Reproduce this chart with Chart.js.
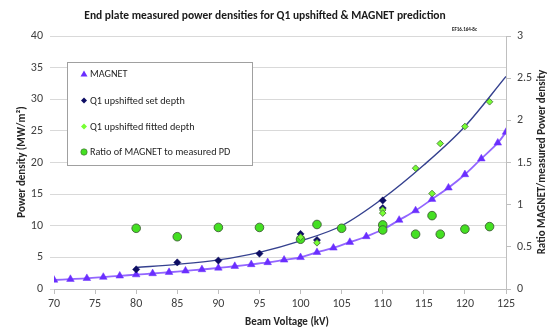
<!DOCTYPE html>
<html>
<head>
<meta charset="utf-8">
<script src="https://cdn.jsdelivr.net/npm/chart.js@4/dist/chart.umd.min.js"></script>
<style>
html,body{margin:0;padding:0;background:#fff;}
#wrap{width:554px;height:329px;position:relative;}
</style>
</head>
<body>
<div id="wrap"><canvas id="c" width="554" height="329"></canvas></div>
<script>
// ---- data ----
const magnetKV = [70,72,74,76,78,80,82,84,86,88,90,92,94,96,98,100,102,104,106,108,110,112,114,116,118,120,122,124,125];
const magnetPD = [1.42,1.55,1.69,1.88,2.08,2.27,2.45,2.65,2.87,3.08,3.33,3.6,3.88,4.2,4.6,5.0,5.8,6.5,7.4,8.3,9.4,10.9,12.4,14.2,16.0,18.1,20.6,23.1,24.8];

const setKV = [80,85,90,95,100,102,110,110];
const setPD = [3.1,4.2,4.5,5.6,8.7,7.75,14.0,12.8];

const fitKV = [100,102,110,110,114,116,117,120,123];
const fitPD = [8.2,7.3,12.5,12.0,19.1,15.1,23.0,25.7,29.6];

const ratioKV = [80,85,90,95,100,102,105,110,110,114,116,117,120,123];
const ratioVal = [0.72,0.62,0.73,0.73,0.59,0.765,0.72,0.76,0.70,0.65,0.87,0.65,0.71,0.74];

const trendKV = [80,85,90,95,100,105,110,115,120,125];
const trendPD = [3.4,3.9,4.6,5.8,7.6,10.0,14.3,19.6,25.7,33.6];

const leftTicks = [0,5,10,15,20,25,30,35,40];
const rightTicks = [0,0.5,1,1.5,2,2.5,3];
const xTicks = [70,75,80,85,90,95,100,105,110,115,120,125];

const titleText = "End plate measured power densities for Q1 upshifted & MAGNET prediction";
const leftTitle = "Power density (MW/m\u00B2)";
const rightTitle = "Ratio MAGNET/measured Power density";
const xTitle = "Beam Voltage (kV)";
const tagText = "EF16.164-8c";
const legendLabels = ["MAGNET","Q1 upshifted set depth","Q1 upshifted fitted depth","Ratio of MAGNET to measured PD"];

const FONT = "Carlito, Lato, 'Liberation Sans', sans-serif";
const pts = (xs, ys) => xs.map((x,i)=>({x:x, y:ys[i]}));

const C_MAG = '#6a2eff', C_MAGLINE = '#9366ff', C_SET = '#0d0d63', C_TREND = '#35418f',
      C_FIT = '#77ff33', C_FITB = '#4d7a3d', C_RAT = '#44e022', C_RATB = '#3f5f36';

const overlay = {
  id:'overlay',
  afterDraw(chart){
    const ctx = chart.ctx;
    ctx.save();
    // title
    ctx.fillStyle = '#1a1a1a';
    ctx.font = "bold 11.5px " + FONT;
    ctx.textAlign = 'center'; ctx.textBaseline = 'middle';
    ctx.fillText(titleText, 265, 16);
    // tag
    ctx.font = "bold 5px " + FONT;
    ctx.textAlign = 'right';
    ctx.fillText(tagText, 477, 30);
    // axis titles
    ctx.fillStyle = '#262626';
    ctx.font = "bold 11px " + FONT;
    ctx.textAlign = 'center';
    ctx.fillText(xTitle, 287, 322);
    ctx.save(); ctx.translate(22, 162); ctx.rotate(-Math.PI/2); ctx.fillText(leftTitle, 0, 0); ctx.restore();
    ctx.save(); ctx.translate(542, 162); ctx.rotate(-Math.PI/2); ctx.fillText(rightTitle, 0, 0); ctx.restore();
    // legend box
    ctx.fillStyle = '#ffffff';
    ctx.fillRect(67.5, 62.5, 185, 103);
    ctx.strokeStyle = '#a0a0a0'; ctx.lineWidth = 1;
    ctx.strokeRect(67.5, 62.5, 185, 103);
    const ys = [74, 100.5, 126.5, 152];
    const mx = 84;
    // triangle
    ctx.fillStyle = C_MAG;
    ctx.beginPath(); ctx.moveTo(mx, ys[0]-3.5); ctx.lineTo(mx+3.5, ys[0]+2.5); ctx.lineTo(mx-3.5, ys[0]+2.5); ctx.closePath(); ctx.fill();
    // diamond navy
    ctx.fillStyle = C_SET;
    ctx.beginPath(); ctx.moveTo(mx, ys[1]-3); ctx.lineTo(mx+3, ys[1]); ctx.lineTo(mx, ys[1]+3); ctx.lineTo(mx-3, ys[1]); ctx.closePath(); ctx.fill();
    // diamond green
    ctx.fillStyle = C_FIT;
    ctx.beginPath(); ctx.moveTo(mx, ys[2]-3); ctx.lineTo(mx+3, ys[2]); ctx.lineTo(mx, ys[2]+3); ctx.lineTo(mx-3, ys[2]); ctx.closePath(); ctx.fill();
    // circle
    ctx.fillStyle = C_RAT; ctx.strokeStyle = C_RATB;
    ctx.beginPath(); ctx.arc(mx, ys[3], 3.2, 0, Math.PI*2); ctx.fill(); ctx.lineWidth=0.6; ctx.stroke();
    ctx.fillStyle = '#262626';
    ctx.font = "10.2px " + FONT;
    ctx.textAlign = 'left';
    legendLabels.forEach((t,i)=>ctx.fillText(t, 90, ys[i]+0.5));
    ctx.restore();
  }
};

new Chart(document.getElementById('c'), {
  type: 'scatter',
  data: {
    datasets: [
      { label: legendLabels[0], type:'line', data: pts(magnetKV, magnetPD), yAxisID:'y',
        borderColor: C_MAGLINE, borderWidth: 1.8, backgroundColor: C_MAG, pointBackgroundColor: C_MAG,
        pointBorderColor: C_MAG, pointStyle:'triangle', pointRadius: 4.4, pointBorderWidth: 0.5,
        tension: 0.35, fill:false, order: 5 },
      { label: 'trend', type:'line', data: pts(trendKV, trendPD), yAxisID:'y',
        borderColor: C_TREND, borderWidth: 1.4, pointRadius: 0, cubicInterpolationMode:'monotone',
        fill:false, order: 4 },
      { label: legendLabels[3], data: pts(ratioKV, ratioVal), yAxisID:'y2',
        pointStyle:'circle', pointRadius: 4.3, pointBackgroundColor: C_RAT, pointBorderColor: C_RATB,
        pointBorderWidth: 0.9, showLine:false, order: 3 },
      { label: legendLabels[1], data: pts(setKV, setPD), yAxisID:'y',
        pointStyle:'rectRot', pointRadius: 3.6, pointBackgroundColor: C_SET, pointBorderColor: C_SET,
        pointBorderWidth: 0.5, showLine:false, order: 2 },
      { label: legendLabels[2], data: pts(fitKV, fitPD), yAxisID:'y',
        pointStyle:'rectRot', pointRadius: 3.3, pointBackgroundColor: C_FIT, pointBorderColor: C_FITB,
        pointBorderWidth: 0.9, showLine:false, order: 1 }
    ]
  },
  options: {
    responsive:false, animation:false, devicePixelRatio:1,
    layout:{ padding:{ top:36, left:0, right:0, bottom:0 } },
    plugins:{ legend:{display:false}, title:{display:false}, tooltip:{enabled:false} },
    scales:{
      x:{ type:'linear', min:70, max:125,
        afterBuildTicks: s => { s.ticks = xTicks.map(v=>({value:v})); },
        afterFit: s => { s.height = 40; },
        grid:{ drawOnChartArea:false, drawTicks:true, tickLength:5, color:'#bfbfbf' },
        border:{ display:true, color:'#bfbfbf' },
        ticks:{ padding:3, color:'#404040', font:{ family:FONT, size:12 }, maxRotation:0,
          callback: v => String(v) } },
      y:{ type:'linear', position:'left', min:0, max:40,
        afterBuildTicks: s => { s.ticks = leftTicks.map(v=>({value:v})); },
        afterFit: s => { s.width = 54; },
        grid:{ color:'#d9d9d9', tickLength:4, drawTicks:true },
        border:{ display:false },
        ticks:{ padding:7, color:'#404040', font:{ family:FONT, size:12 }, callback: v => String(v) } },
      y2:{ type:'linear', position:'right', min:0, max:3,
        afterBuildTicks: s => { s.ticks = rightTicks.map(v=>({value:v})); },
        afterFit: s => { s.width = 48; },
        grid:{ drawOnChartArea:false, drawTicks:true, tickLength:5, color:'#bfbfbf' },
        border:{ display:true, color:'#bfbfbf' },
        ticks:{ padding:6, color:'#404040', font:{ family:FONT, size:12 }, callback: v => String(v) } }
    }
  },
  plugins:[overlay]
});
</script>
</body>
</html>
